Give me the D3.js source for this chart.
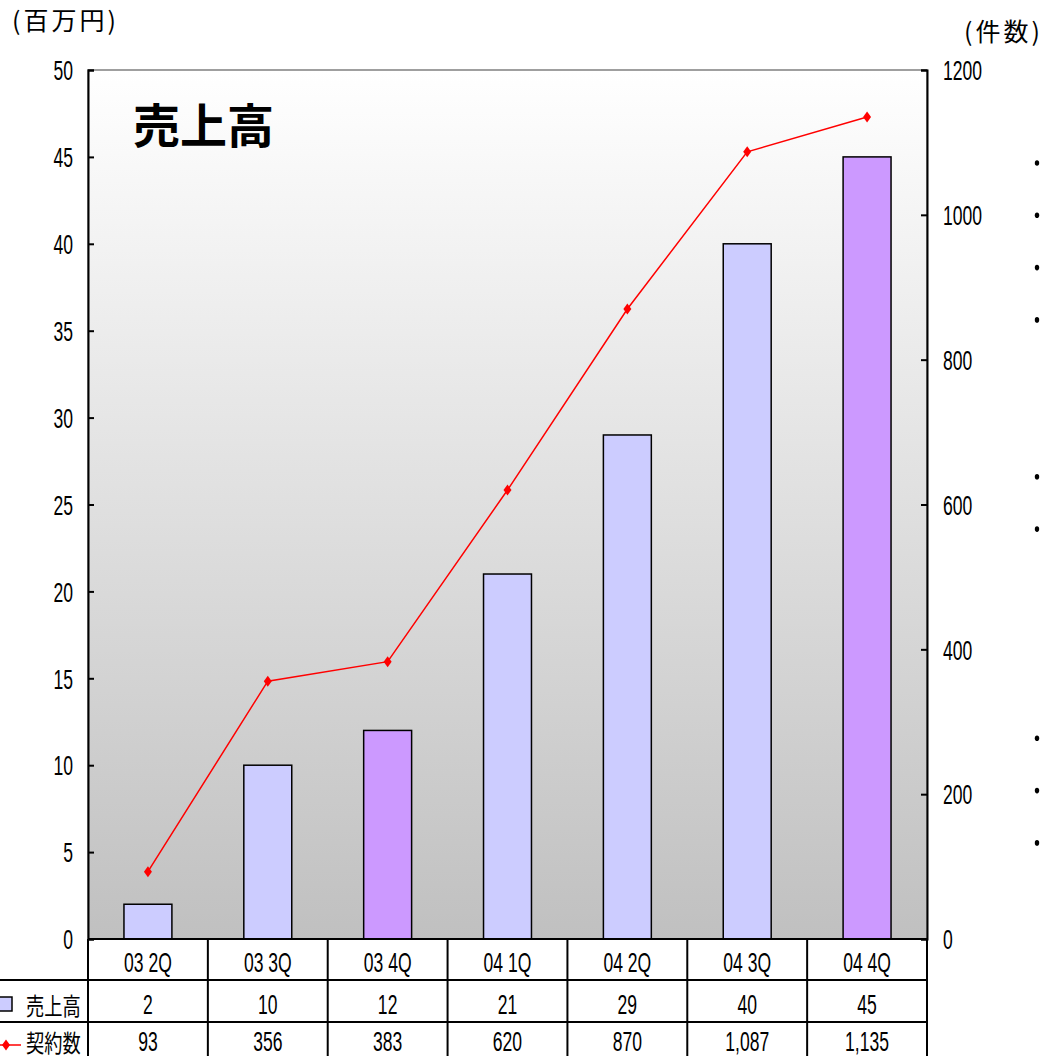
<!DOCTYPE html>
<html>
<head>
<meta charset="utf-8">
<script src="https://cdn.jsdelivr.net/npm/d3@7"></script>
<style>
body{margin:0;background:#fff;}
.num{font-family:"Liberation Sans",Arial,sans-serif;font-size:27px;fill:#000;}
.jp{font-family:"Noto Sans CJK JP","Noto Sans",sans-serif;fill:#000;}
</style>
</head>
<body>
<script>
// data
const categories=["03 2Q","03 3Q","03 4Q","04 1Q","04 2Q","04 3Q","04 4Q"]
const sales=[2,10,12,21,29,40,45]
const contracts=[93,356,383,620,870,1087,1135]
const contractLabels=["93","356","383","620","870","1,087","1,135"]
const leftTicks=[0,5,10,15,20,25,30,35,40,45,50]
const rightTicks=[0,200,400,600,800,1000,1200]
const bulletLines=[0,1,2,3,6,7,11,12,13]

//constants
const W=1044, H=1056
const pL=88, pR=927, pT=70, pB=939
const rowH=[939,980,1022]
const rowC=[962,1004,1041]
const NARROW=0.65

const svg=d3.select("body").append("svg").attr("width",W).attr("height",H)

// squeeze text horizontally like a narrow face
function squeeze(sel,k){
  sel.each(function(){
    const t=d3.select(this)
    const xx=+t.attr("x")||0
    t.attr("x",xx/k).attr("transform",`scale(${k},1)`)
  })
}

const defs=svg.append("defs")
const grad=defs.append("linearGradient").attr("id","bg").attr("x1",0).attr("y1",0).attr("x2",0).attr("y2",1)
grad.append("stop").attr("offset","0%").attr("stop-color","#ffffff")
grad.append("stop").attr("offset","100%").attr("stop-color","#c0c0c0")

//scales
const x=d3.scaleBand().domain(categories).range([pL,pR])
const yL=d3.scaleLinear().domain([0,50]).range([pB,pT])
const yR=d3.scaleLinear().domain([0,1200]).range([pB,pT])
const lineY=d3.scaleLinear().domain([0,1]).range([163,215.3])

//plot bg
svg.append("rect").attr("x",pL).attr("y",pT).attr("width",pR-pL).attr("height",pB-pT)
   .attr("fill","url(#bg)").attr("stroke","#808080").attr("stroke-width",1.5)

//bars
const bw=x.bandwidth()*0.4
svg.selectAll(".bar").data(categories).enter().append("rect")
   .attr("class","bar")
   .attr("x",d=>x(d)+(x.bandwidth()-bw)/2)
   .attr("y",(d,i)=>yL(sales[i]))
   .attr("width",bw)
   .attr("height",(d,i)=>pB-yL(sales[i]))
   .attr("fill",d=>d.endsWith("4Q")?"#cc99ff":"#ccccff")
   .attr("stroke","#000").attr("stroke-width",1.5)

//line
const cx=d=>x(d)+x.bandwidth()/2
const line=d3.line().x(d=>cx(d[0])).y(d=>yR(d[1]))
const pts=categories.map((c,i)=>[c,contracts[i]])
svg.append("path").datum(pts).attr("d",line).attr("fill","none").attr("stroke","#ff0000").attr("stroke-width",1.5)
const diamond="M0,-5.5L4,0L0,5.5L-4,0Z"
svg.selectAll(".mk").data(pts).enter().append("path")
   .attr("d",diamond).attr("fill","#ff0000")
   .attr("transform",d=>`translate(${cx(d[0])},${yR(d[1])})`)

//axes
const axL=svg.append("g").attr("transform",`translate(${pL},0)`)
   .call(d3.axisLeft(yL).tickValues(leftTicks).tickFormat(d3.format("d")).tickSize(-6).tickPadding(15))
const axR=svg.append("g").attr("transform",`translate(${pR},0)`)
   .call(d3.axisRight(yR).tickValues(rightTicks).tickFormat(d3.format("d")).tickSize(-6).tickPadding(16))
;[axL,axR].forEach(a=>{
  a.attr("font-family",null).attr("font-size",null)
  a.select(".domain").attr("stroke","#000").attr("stroke-width",2)
  a.selectAll(".tick line").attr("stroke","#000").attr("stroke-width",2)
  a.selectAll(".tick text").attr("class","num").attr("fill","#000").attr("dy","0.36em")
  squeeze(a.selectAll(".tick text"),NARROW)
})

//title & units
svg.append("text").attr("class","jp").attr("x",133).attr("y",143)
   .attr("font-size",47).attr("font-weight",700).text("売上高")
svg.append("text").attr("class","jp").attr("x",12).attr("y",30).attr("font-size",25)
   .attr("letter-spacing",3).text("(百万円)")
svg.append("text").attr("class","jp").attr("x",964).attr("y",41).attr("font-size",25)
   .attr("letter-spacing",3).text("(件数)")

//table grid
const g=svg.append("g").attr("stroke","#000").attr("stroke-width",2)
g.append("line").attr("x1",pL).attr("x2",pR).attr("y1",rowH[0]).attr("y2",rowH[0])
g.selectAll(".hl").data([rowH[1],rowH[2]]).enter().append("line")
   .attr("x1",0).attr("x2",pR).attr("y1",d=>d).attr("y2",d=>d)
g.selectAll(".vl").data(categories.map(c=>x(c)).concat([pR])).enter().append("line")
   .attr("x1",d=>d).attr("x2",d=>d).attr("y1",rowH[0]).attr("y2",H)

const rows=[categories,sales.map(String),contractLabels]
rows.forEach((r,ri)=>{
  const t=svg.selectAll(".r"+ri).data(r).enter().append("text")
     .attr("class","num")
     .attr("x",(d,i)=>cx(categories[i]))
     .attr("y",rowC[ri])
     .attr("dy","0.36em").attr("text-anchor","middle")
     .text(d=>d)
  squeeze(t,NARROW)
})

//row headers
svg.append("rect").attr("x",-1).attr("y",997).attr("width",13).attr("height",14)
   .attr("fill","#ccccff").attr("stroke","#000").attr("stroke-width",1.5)
const h1=svg.append("text").attr("class","jp").attr("x",26).attr("y",1015).attr("font-size",24).text("売上高")
svg.append("line").attr("x1",0).attr("x2",21).attr("y1",1045).attr("y2",1045).attr("stroke","#ff0000").attr("stroke-width",1.5)
svg.append("path").attr("d",diamond).attr("fill","#ff0000").attr("transform","translate(6,1045)")
const h2=svg.append("text").attr("class","jp").attr("x",26).attr("y",1052).attr("font-size",24).text("契約数")
squeeze(h1,0.76)
squeeze(h2,0.76)

//side bullets
svg.selectAll(".bl").data(bulletLines).enter().append("ellipse")
   .attr("cx",1037).attr("cy",d=>lineY(d)).attr("rx",2.2).attr("ry",2.8).attr("fill","#000")
</script>
</body>
</html>
